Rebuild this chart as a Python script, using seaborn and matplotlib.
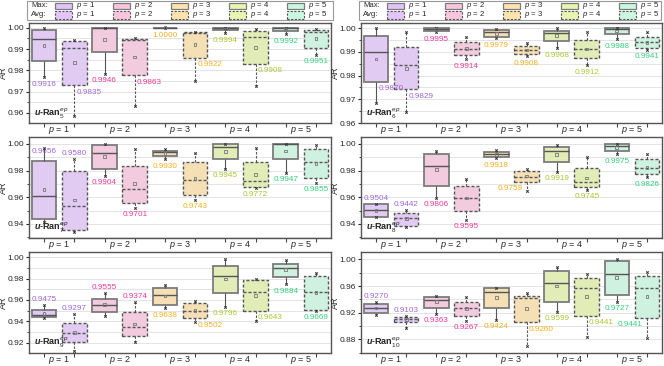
import numpy as np
import pandas as pd
import matplotlib
matplotlib.use("Agg")
import matplotlib.pyplot as plt
from matplotlib.patches import Rectangle
from matplotlib.ticker import MultipleLocator, FormatStrFormatter
import seaborn as sns

# %%
# data: [whisker low, q1, median, q3, whisker high] for p = 1..5
p_levels = ["p = 1", "p = 2", "p = 3", "p = 4", "p = 5"]
p_ticklabels = [r"$p$ = 1", r"$p$ = 2", r"$p$ = 3", r"$p$ = 4", r"$p$ = 5"]

ran5_max = [[0.9767, 0.9842, 0.9945, 0.9988, 1.0000],
            [0.9783, 0.9888, 0.9998, 0.9998, 1.0000],
            [0.9998, 0.9998, 1.0000, 1.0000, 1.0000],
            [0.9973, 0.9988, 0.9997, 1.0000, 1.0000],
            [0.9969, 0.9983, 0.9997, 1.0000, 1.0000]]
ran5_avg = [[0.9584, 0.9730, 0.9903, 0.9939, 0.9942],
            [0.9633, 0.9777, 0.9944, 0.9945, 0.9950],
            [0.9750, 0.9859, 0.9975, 0.9978, 0.9978],
            [0.9727, 0.9830, 0.9955, 0.9986, 0.9995],
            [0.9872, 0.9906, 0.9978, 0.9991, 0.9992]]
ran5_max_mean = [0.9916, 0.9946, 1.0000, 0.9994, 0.9992]
ran5_avg_mean = [0.9835, 0.9863, 0.9922, 0.9908, 0.9951]

ran6_max = [[0.9683, 0.9773, 0.9900, 0.9969, 1.0000],
            [0.9982, 0.9990, 0.9996, 1.0000, 1.0000],
            [0.9958, 0.9965, 0.9982, 0.9993, 0.9997],
            [0.9916, 0.9944, 0.9979, 0.9989, 1.0000],
            [0.9954, 0.9975, 0.9997, 1.0000, 1.0000]]
ran6_avg = [[0.9648, 0.9742, 0.9844, 0.9919, 0.9983],
            [0.9868, 0.9886, 0.9914, 0.9942, 0.9965],
            [0.9882, 0.9891, 0.9907, 0.9923, 0.9937],
            [0.9843, 0.9875, 0.9912, 0.9950, 0.9982],
            [0.9909, 0.9915, 0.9942, 0.9961, 0.9982]]
ran6_max_mean = [0.9870, 0.9995, 0.9979, 0.9968, 0.9988]
ran6_avg_mean = [0.9829, 0.9914, 0.9908, 0.9912, 0.9941]

ran7_max = [[0.9418, 0.9435, 0.9610, 0.9875, 0.9973],
            [0.9760, 0.9810, 0.9930, 0.9993, 1.0000],
            [0.9885, 0.9913, 0.9938, 0.9948, 0.9960],
            [0.9813, 0.9888, 0.9980, 1.0000, 1.0000],
            [0.9785, 0.9888, 1.0000, 1.0000, 1.0000]]
ran7_avg = [[0.9343, 0.9355, 0.9535, 0.9800, 0.9888],
            [0.9523, 0.9560, 0.9660, 0.9838, 0.9960],
            [0.9580, 0.9618, 0.9730, 0.9863, 0.9930],
            [0.9673, 0.9680, 0.9723, 0.9868, 0.9973],
            [0.9710, 0.9743, 0.9863, 0.9960, 0.9993]]
ran7_max_mean = [0.9656, 0.9904, 0.9930, 0.9945, 0.9947]
ran7_avg_mean = [0.9580, 0.9701, 0.9743, 0.9772, 0.9855]

ran8_max = [[0.9450, 0.9455, 0.9505, 0.9548, 0.9548],
            [0.9598, 0.9685, 0.9838, 0.9923, 0.9948],
            [0.9893, 0.9905, 0.9925, 0.9938, 0.9955],
            [0.9793, 0.9863, 0.9948, 0.9975, 0.9993],
            [0.9923, 0.9950, 0.9988, 1.0000, 1.0000]]
ran8_avg = [[0.9380, 0.9385, 0.9443, 0.9485, 0.9505],
            [0.9430, 0.9498, 0.9598, 0.9688, 0.9738],
            [0.9648, 0.9718, 0.9755, 0.9800, 0.9810],
            [0.9655, 0.9675, 0.9718, 0.9818, 0.9900],
            [0.9750, 0.9773, 0.9823, 0.9885, 0.9923]]
ran8_max_mean = [0.9504, 0.9806, 0.9918, 0.9919, 0.9975]
ran8_avg_mean = [0.9442, 0.9595, 0.9759, 0.9745, 0.9826]

ran9_max = [[0.9428, 0.9438, 0.9459, 0.9506, 0.9553],
            [0.9450, 0.9491, 0.9553, 0.9609, 0.9663],
            [0.9522, 0.9553, 0.9647, 0.9709, 0.9741],
            [0.9538, 0.9663, 0.9825, 0.9922, 0.9984],
            [0.9747, 0.9819, 0.9903, 0.9938, 0.9975]]
ran9_avg = [[0.9122, 0.9203, 0.9294, 0.9381, 0.9469],
            [0.9209, 0.9263, 0.9350, 0.9484, 0.9578],
            [0.9391, 0.9428, 0.9500, 0.9569, 0.9591],
            [0.9403, 0.9497, 0.9678, 0.9784, 0.9794],
            [0.9497, 0.9506, 0.9678, 0.9825, 0.9850]]
ran9_max_mean = [0.9475, 0.9555, 0.9638, 0.9796, 0.9884]
ran9_avg_mean = [0.9297, 0.9374, 0.9502, 0.9643, 0.9669]

ran10_max = [[0.9170, 0.9190, 0.9265, 0.9330, 0.9365],
             [0.9180, 0.9265, 0.9390, 0.9440, 0.9455],
             [0.9090, 0.9265, 0.9505, 0.9565, 0.9575],
             [0.9215, 0.9355, 0.9640, 0.9830, 0.9880],
             [0.9365, 0.9465, 0.9780, 0.9980, 1.0000]]
ran10_avg = [[0.8965, 0.9065, 0.9105, 0.9140, 0.9150],
             [0.9075, 0.9155, 0.9265, 0.9365, 0.9430],
             [0.8700, 0.9055, 0.9415, 0.9455, 0.9490],
             [0.8840, 0.9150, 0.9565, 0.9715, 0.9775],
             [0.8825, 0.9125, 0.9565, 0.9750, 0.9805]]
ran10_max_mean = [0.9270, 0.9363, 0.9424, 0.9599, 0.9727]
ran10_avg_mean = [0.9103, 0.9267, 0.9260, 0.9441, 0.9441]

# %%
# styling / layout
fill_colors = ["#E2C4FA", "#F9C4DE", "#FFE3AC", "#E7F5AE", "#C9F7E0"]
text_colors = ["#A066D6", "#F0399A", "#F5B020", "#A8C832", "#33D07C"]

# where each mean label goes (Max, Avg per p):
# b=below whisker, a=above whisker, A=above box, r=right, l=left
panels = [
    ("5", ran5_max, ran5_avg, ran5_max_mean, ran5_avg_mean, (0.9553, 1.0022), 0.01,
     "b r b r b r b r b b"),
    ("6", ran6_max, ran6_avg, ran6_max_mean, ran6_avg_mean, (0.9600, 1.0022), 0.01,
     "r r b b b b b b b b"),
    ("7", ran7_max, ran7_avg, ran7_max_mean, ran7_avg_mean, (0.9295, 1.0052), 0.02,
     "A a b b b b b b b b"),
    ("8", ran8_max, ran8_avg, ran8_max_mean, ran8_avg_mean, (0.9295, 1.0052), 0.02,
     "a a b b b l b b b b"),
    ("9", ran9_max, ran9_avg, ran9_max_mean, ran9_avg_mean, (0.9103, 1.0050), 0.02,
     "a a a a b r b r b b"),
    ("10", ran10_max, ran10_avg, ran10_max_mean, ran10_avg_mean, (0.8595, 1.0110), 0.04,
     "a a b b b r b r b l"),
]

sns.set_style("ticks")
plt.rcParams["font.family"] = ["Liberation Sans", "DejaVu Sans"]
plt.rcParams["mathtext.fontset"] = "custom"
plt.rcParams["mathtext.rm"] = "Liberation Sans"
plt.rcParams["mathtext.it"] = "Liberation Sans:italic"
plt.rcParams["mathtext.bf"] = "Liberation Sans:bold"
plt.rcParams["mathtext.sf"] = "Liberation Sans:italic:bold"

W, H = 664, 366
fig = plt.figure(figsize=(W / 100, H / 100), dpi=100)

col_x = [(29, 331), (361, 662)]
row_y = [(23, 123), (137, 238), (252, 353)]
lab_fs = 5.9

kinds = [("Max", -0.25, "-", "#7c7c7c", 1.3), ("Avg", 0.25, (0, (2.2, 1.4)), "#555555", 1.0)]

for k, (sub, mx, av, mx_mean, av_mean, ylim, step, places) in enumerate(panels):
    r, c = divmod(k, 2)
    x0, x1 = col_x[c]
    y0, y1 = row_y[r]
    ax = fig.add_axes([x0 / W, 1 - y1 / H, (x1 - x0) / W, (y1 - y0) / H])

    places = places.split()
    for j, (kind, off, ls, lc, lw) in enumerate(kinds):
        summ = mx if kind == "Max" else av
        means = mx_mean if kind == "Max" else av_mean
        rows = []
        for i, p in enumerate(p_levels):
            for v in summ[i]:
                rows.append({"p": p, "xpos": i + off, "AR": v})
        df = pd.DataFrame(rows)
        sns.boxplot(data=df, x="xpos", y="AR", hue="p", palette=fill_colors,
                    native_scale=True, dodge=False, width=0.41, whis=(0, 100),
                    showcaps=False, showfliers=False, linecolor=lc, linewidth=lw,
                    boxprops=dict(linestyle=ls),
                    whiskerprops=dict(linestyle=ls, linewidth=0.8, color="#555555"),
                    medianprops=dict(linestyle=ls, linewidth=1.0, color="#555555"),
                    legend=False, ax=ax)

        xs = np.arange(5) + off
        lows = [s[0] for s in summ]
        highs = [s[4] for s in summ]
        ax.scatter(np.r_[xs, xs], np.r_[lows, highs], marker="x", s=3,
                   linewidths=0.7, color="#333333", zorder=5)
        ax.scatter(xs, means, marker="s", s=4, facecolors="none",
                   edgecolors="#777777", linewidths=0.6, zorder=5)

        for i in range(5):
            where = places[2 * i + j]
            txt = f"{means[i]:.4f}"
            col = text_colors[i]
            if where == "b":
                ax.annotate(txt, (xs[i], lows[i]), xytext=(0, -2.5), textcoords="offset points",
                            ha="center", va="top", fontsize=lab_fs, color=col)
            elif where == "a":
                ax.annotate(txt, (xs[i], highs[i]), xytext=(0, 1.5), textcoords="offset points",
                            ha="center", va="bottom", fontsize=lab_fs, color=col)
            elif where == "A":
                ax.annotate(txt, (xs[i], summ[i][3]), xytext=(0, 4), textcoords="offset points",
                            ha="center", va="bottom", fontsize=lab_fs, color=col)
            elif where == "r":
                ax.annotate(txt, (xs[i], summ[i][1]), xytext=(1.5, -2.5), textcoords="offset points",
                            ha="left", va="top", fontsize=lab_fs, color=col)
            else:
                ax.annotate(txt, (xs[i], summ[i][1]), xytext=(-3, -2.5), textcoords="offset points",
                            ha="right", va="top", fontsize=lab_fs, color=col)

    ax.set_xlim(-0.5, 4.5)
    ax.set_ylim(*ylim)
    ax.set_xticks(range(5))
    ax.set_xticklabels(p_ticklabels, fontsize=6.5)
    ax.set_xticks(np.r_[np.arange(5) - 0.25, np.arange(5) + 0.25], minor=True)
    ax.tick_params(axis="x", which="major", length=0, pad=1)
    ax.tick_params(axis="x", which="minor", length=3, width=0.8, color="#444444", direction="out")
    ax.yaxis.set_major_locator(MultipleLocator(step))
    ax.yaxis.set_minor_locator(MultipleLocator(step / 2))
    ax.yaxis.set_major_formatter(FormatStrFormatter("%.2f"))
    ax.tick_params(axis="y", which="major", length=2.5, width=0.8, labelsize=6.0, pad=1)
    ax.tick_params(axis="y", which="minor", length=1.5, width=0.6)
    ax.grid(axis="y", which="both", color="#e4e4e4", linewidth=0.7)
    ax.set_axisbelow(True)
    ax.set_xlabel("")
    ax.set_ylabel("AR", fontsize=6.5)
    ax.yaxis.set_label_coords((8 + (0 if c == 0 else 332) - x0) / (x1 - x0), 0.5)
    for s in ax.spines.values():
        s.set_color("#555555")
        s.set_linewidth(1.0)
    ax.text(0.015, 0.07, r"$\mathsf{u}$-Ran$_{" + sub + r"}^{\mathit{ep}}$",
            transform=ax.transAxes, fontsize=6.5, fontweight="bold", va="baseline")

# %%
# legends above each column
for off in (0, 332):
    fw = 306 if off == 0 else 302
    fig.add_artist(Rectangle(((27 + off) / W, 1 - 20 / H), fw / W, 19.5 / H,
                             transform=fig.transFigure, fill=False, edgecolor="#999999", lw=0.8))
    fig.text((31 + off) / W, 1 - 5.2 / H, "Max:", fontsize=5.6, va="center")
    fig.text((31 + off) / W, 1 - 14.8 / H, "Avg:", fontsize=5.6, va="center")
    for i in range(5):
        px0 = 55 + 58 * i + off
        fig.add_artist(Rectangle((px0 / W, 1 - 9 / H), 17 / W, 6.5 / H, transform=fig.transFigure,
                                 facecolor=fill_colors[i], edgecolor="#7c7c7c", lw=0.9))
        fig.add_artist(Rectangle((px0 / W, 1 - 18.5 / H), 17 / W, 7.5 / H, transform=fig.transFigure,
                                 facecolor=fill_colors[i], edgecolor="#555555", lw=0.8,
                                 linestyle=(0, (2, 1.3))))
        fig.text((px0 + 21) / W, 1 - 5.2 / H, p_ticklabels[i], fontsize=5.6, va="center")
        fig.text((px0 + 21) / W, 1 - 14.8 / H, p_ticklabels[i], fontsize=5.6, va="center")

fig.savefig("out.png", dpi=100)
